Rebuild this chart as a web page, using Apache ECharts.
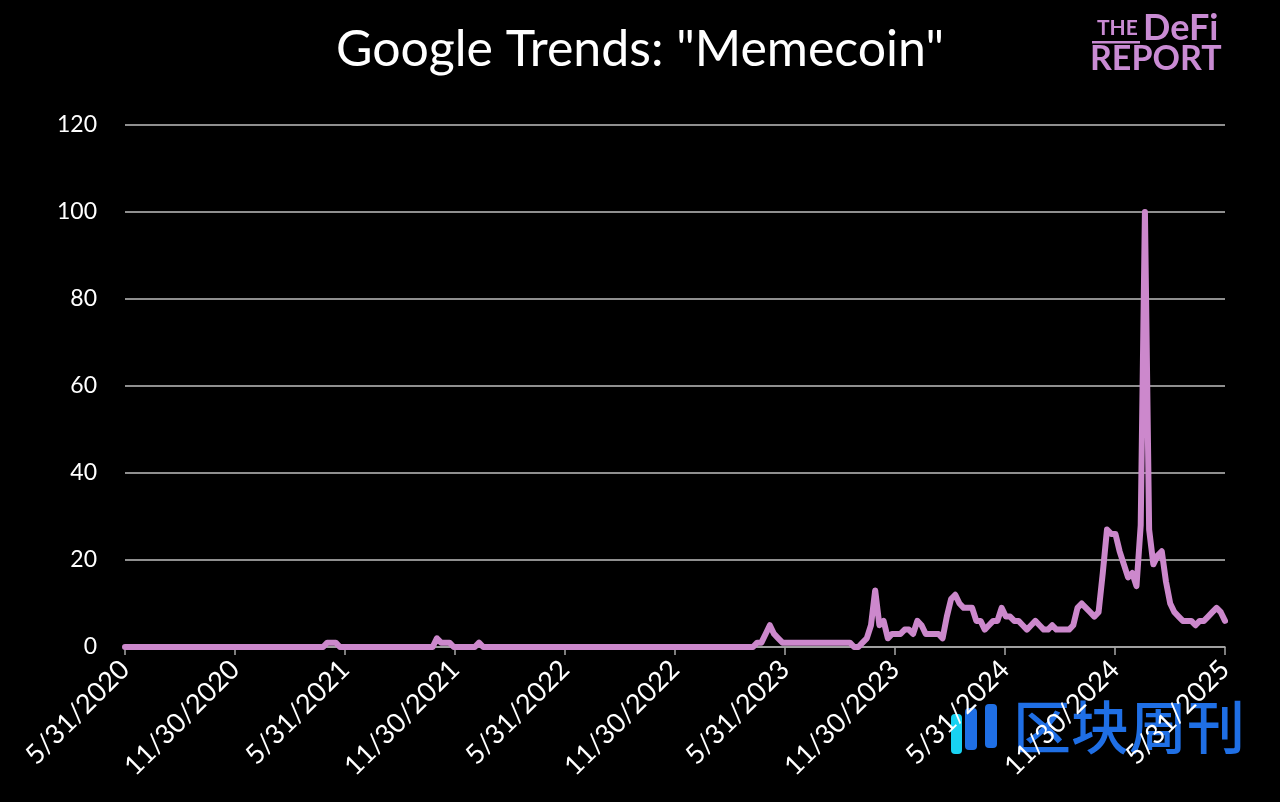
<!DOCTYPE html>
<html>
<head>
<meta charset="utf-8">
<script src="https://cdn.jsdelivr.net/npm/echarts@6/dist/echarts.min.js"></script>
<style>
html,body{margin:0;padding:0;background:#000;}
#chart{width:1280px;height:802px;}
</style>
</head>
<body>
<div id="chart"></div>
<script>
// Weekly Google Trends index for "Memecoin", starting week of 5/31/2020
const weeklyValues = [
  0,0,0,0,0,0,0,0,0,0,0,0,0,0,0,0,0,0,0,0,0,0,0,0,0,0,0,0,0,0,0,0,0,0,0,0,0,0,0,0,0,0,0,0,0,0,0,0,
  1,1,1,
  0,0,0,0,0,0,0,0,0,0,0,0,0,0,0,0,0,0,0,0,0,0,0,
  2,
  1,1,1,
  0,0,0,0,0,0,
  1,
  0,0,0,0,0,0,0,0,0,0,0,0,0,0,0,0,0,0,0,0,0,0,0,0,0,0,0,0,0,0,0,0,0,0,0,0,0,0,0,0,0,0,0,0,0,0,0,0,0,0,0,0,0,0,0,0,0,0,0,0,0,0,0,0,0,
  1,1,3,5,3,2,
  1,1,1,1,1,1,1,1,1,1,1,1,1,1,1,1,1,
  0,0,1,2,5,13,5,6,
  2,3,3,3,4,4,3,6,5,3,3,3,3,2,
  7,11,12,10,9,9,9,6,6,4,5,6,6,
  9,7,7,6,6,5,4,5,6,5,4,4,5,4,4,4,4,
  5,9,10,9,8,7,8,17,27,26,26,22,19,16,17,14,
  28,100,27,19,21,22,15,10,8,7,6,6,6,5,6,6,7,8,9,8,6
];
const xTickLabels = ["5/31/2020","11/30/2020","5/31/2021","11/30/2021","5/31/2022","11/30/2022","5/31/2023","11/30/2023","5/31/2024","11/30/2024","5/31/2025"];
const yTicks = [0, 20, 40, 60, 80, 100, 120];
const titleText = 'Google Trends: "Memecoin"';
const weeksPerTick = 26.1;

const chart = echarts.init(document.getElementById('chart'), null, {renderer: 'canvas'});
const seriesData = weeklyValues.map((v, i) => [i / weeksPerTick, v]);
const font = 'Lato, "Open Sans", sans-serif';
const logoColor = '#C98BD3';

chart.setOption({
  backgroundColor: '#000000',
  animation: false,
  title: {
    text: titleText,
    left: 'center',
    top: 20,
    textStyle: {color: '#ffffff', fontSize: 50, fontWeight: 'normal', fontFamily: font}
  },
  grid: {left: 125, right: 55, top: 125, bottom: 155, containLabel: false},
  xAxis: {
    type: 'value',
    min: 0, max: 10, interval: 1,
    axisLine: {show: true, lineStyle: {color: '#A6A6A6', width: 1.5}},
    axisTick: {show: true, length: 8, lineStyle: {color: '#A6A6A6', width: 1.5}},
    splitLine: {show: false},
    axisLabel: {
      color: '#ffffff', fontSize: 27, fontFamily: font, rotate: 45, margin: 18,
      formatter: v => xTickLabels[Math.round(v)]
    }
  },
  yAxis: {
    type: 'value',
    min: yTicks[0], max: yTicks[yTicks.length - 1], interval: 20,
    axisLine: {show: false},
    axisTick: {show: false},
    splitLine: {show: true, lineStyle: {color: '#BFBFBF', width: 1.5}},
    axisLabel: {color: '#ffffff', fontSize: 23, fontFamily: font, margin: 28}
  },
  series: [{
    type: 'line',
    data: seriesData,
    showSymbol: false,
    symbol: 'none',
    smooth: false,
    lineStyle: {color: '#CC88CC', width: 6, join: 'round', cap: 'round'},
    z: 5
  }],
  graphic: [
    {type: 'text', left: 1097, top: 18, style: {text: 'THE', fill: logoColor, font: 'bold 21px ' + font}},
    {type: 'rect', shape: {x: 1092, y: 41, width: 48, height: 2.5}, style: {fill: logoColor}},
    {type: 'text', left: 1143, top: 10, style: {text: 'DeFi', fill: logoColor, font: 'bold 36px ' + font}},
    {type: 'text', left: 1090, top: 42, style: {text: 'REPORT', fill: logoColor, font: 'bold 34px ' + font}},
    // watermark
    {type: 'rect', shape: {x: 951, y: 714, width: 11, height: 40, r: 4}, style: {fill: '#18D2F2'}},
    {type: 'rect', shape: {x: 965, y: 708, width: 12, height: 42, r: 4}, style: {fill: '#1F6FE5'}},
    {type: 'rect', shape: {x: 985, y: 704, width: 12, height: 44, r: 4}, style: {fill: '#1F6FE5'}},
    {type: 'text', left: 1013, top: 698, style: {text: '区块周刊', fill: '#1F6FE5', font: '500 58px "Noto Sans CJK SC", sans-serif'}}
  ]
});
</script>
</body>
</html>
